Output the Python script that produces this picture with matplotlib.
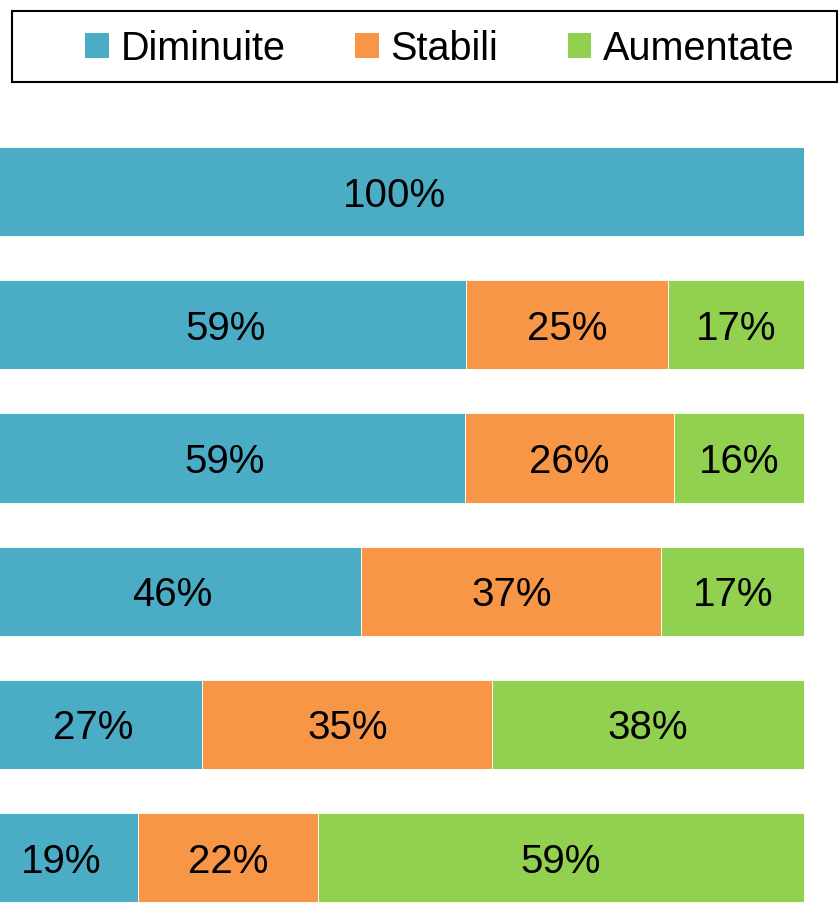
import matplotlib.pyplot as plt
from matplotlib.patches import Patch, Rectangle

plt.rcParams['font.family'] = ['Liberation Sans', 'DejaVu Sans']

series = ['Diminuite', 'Stabili', 'Aumentate']
colors = ['#4BACC6', '#F79646', '#92D050']

# shares per row (top to bottom)
diminuite = [100.0, 58.8, 58.6, 46.0, 26.6, 18.8]
stabili = [0.0, 24.6, 25.6, 36.6, 35.4, 21.9]
aumentate = [0.0, 16.6, 15.8, 17.4, 38.0, 59.3]

values = [diminuite, stabili, aumentate]
rows = list(range(len(diminuite)))

W, H = 839, 916
fig = plt.figure(figsize=(W / 100, H / 100), dpi=100)

# axes in pixel terms: left edge 0 .. 804, top 125 .. bottom 916
ax = fig.add_axes([0, 0, 804 / W, (916 - 125) / H])
ax.set_xlim(1.95, 100)
ax.set_ylim(-0.5 + 791 / 133.2, -0.5)
ax.axis('off')

left = [0.0] * len(rows)
for name, vals, col in zip(series, values, colors):
    ax.barh(rows, vals, left=left, height=0.67, color=col,
            edgecolor='white', linewidth=0.6)
    for r, (l, v) in enumerate(zip(left, vals)):
        if v > 0:
            ax.text(l + v / 2, r + 0.03, f"{v:.0f}%", ha='center', va='center',
                    fontsize=29, color='black')
    left = [a + b for a, b in zip(left, vals)]

# legend frame
fig.patches.append(Rectangle((12 / W, 1 - 82 / H), 825 / W, 71 / H,
                             transform=fig.transFigure, fill=False,
                             edgecolor='black', linewidth=1.5))
handles = [Patch(facecolor=c, edgecolor='none') for c in colors]
fig.legend(handles, series, loc='center', ncol=3,
           bbox_to_anchor=(440 / W, 1 - 48.5 / H), frameon=False,
           fontsize=28.5, handlelength=0.6, handleheight=0.6,
           handletextpad=0.3, columnspacing=1.75)

fig.savefig('out.png', dpi=100)
